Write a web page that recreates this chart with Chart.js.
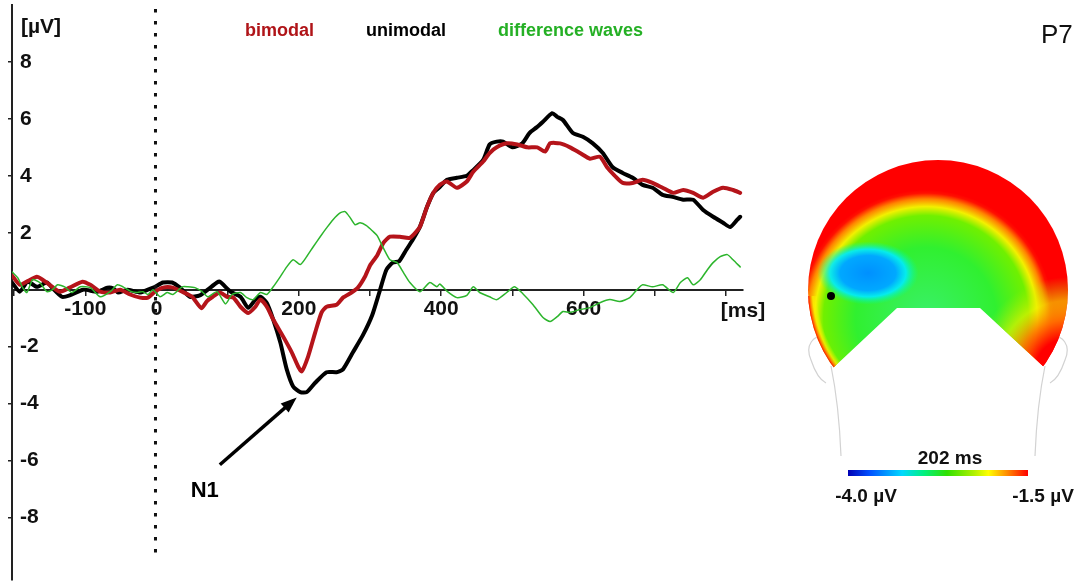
<!DOCTYPE html>
<html>
<head>
<meta charset="utf-8">
<script src="https://cdn.jsdelivr.net/npm/chart.js@4.4.1/dist/chart.umd.min.js"></script>
<style>
  body { margin: 0; background: #fff; }
  #wrap { width: 1079px; height: 581px; }
</style>
</head>
<body>
<div id="wrap"><canvas id="erpChart"></canvas></div>
<script>
// ERP at P7: bimodal vs unimodal, plus difference wave
var unimodalMs = [-203,-192,-181,-168,-154,-146,-133,-122,-103,-83,-69,-61,-54,-41,-23,-12,-2,9,22,33,47,61,72,85,89,104,118,129,139,146,155,164,174,183,192,202,211,223,239,253,262,276,290,303,313,323,332,341,351,360,370,380,389,398,408,422,436,445,459,468,478,487,500,514,524,534,543,556,563,571,585,599,613,627,641,655,669,683,697,711,725,740,754,768,782,796,806,816,820];
var unimodalUv = [0.25,-0.07,0.28,0.1,0.25,0.05,-0.25,-0.2,0,-0.07,0.07,0.05,-0.1,0,-0.1,0,0.1,0.25,0.25,0.07,-0.25,-0.2,0,0.25,0.28,-0.07,-0.25,-0.64,-0.35,-0.25,-0.47,-1.05,-1.86,-2.8,-3.4,-3.6,-3.6,-3.27,-2.9,-2.9,-2.8,-2.2,-1.6,-0.9,-0.1,0.7,0.95,1.0,1.4,1.75,2.2,2.9,3.4,3.6,3.86,3.93,4.0,4.2,4.56,5.1,5.2,5.2,5.0,5.14,5.5,5.7,5.9,6.2,6.07,5.96,5.5,5.37,5.14,4.8,4.3,4.1,3.93,3.68,3.58,3.33,3.26,3.16,3.16,2.8,2.56,2.35,2.2,2.46,2.56];

var bimodalMs = [-203,-192,-181,-168,-160,-150,-136,-122,-104,-93,-79,-65,-51,-37,-23,-12,-2,9,23,36,50,63,71,79,89,99,108,118,129,139,146,155,164,178,190,199,204,213,223,232,239,253,262,274,283,293,300,310,319,328,342,356,370,380,389,398,408,422,436,445,459,468,478,492,507,521,535,546,553,567,581,595,609,623,633,644,655,669,683,697,711,726,740,754,768,782,796,810,820];
var bimodalUv = [0.5,0.17,0.3,0.45,0.35,0.17,-0.07,0.07,0.28,0.17,-0.07,-0.1,0,-0.17,-0.28,-0.28,-0.07,0.07,0.07,-0.07,-0.25,-0.65,-0.4,-0.25,-0.1,-0.25,-0.28,-0.6,-0.82,-0.6,-0.35,-0.6,-1.05,-1.65,-2.2,-2.7,-2.87,-2.35,-1.5,-0.8,-0.6,-0.53,-0.28,-0.1,0.07,0.46,0.85,1.2,1.65,1.86,1.86,1.82,2.2,2.9,3.4,3.68,3.8,3.58,3.8,4.14,4.5,4.8,5.0,5.14,5.1,5.0,5.0,4.85,5.14,5.14,5.0,4.8,4.6,4.67,4.3,4.0,3.75,3.75,3.86,3.75,3.58,3.4,3.5,3.4,3.23,3.44,3.58,3.5,3.4];

var diffMs = [-203,-195,-188,-182,-174,-164,-154,-146,-139,-129,-119,-107,-93,-79,-65,-55,-47,-37,-27,-19,-12,-5,5,15,23,36,44,54,64,72,85,97,106,118,127,136,146,155,164,174,183,192,202,211,220,230,239,248,258,265,272,279,286,295,304,310,319,328,338,347,356,370,384,394,398,408,422,436,445,454,468,478,492,503,515,529,543,553,563,571,581,595,609,623,637,651,665,675,683,697,711,726,736,746,754,764,774,782,792,802,810,820];
var diffUv = [0.63,0.42,0.07,-0.1,0.35,0.25,-0.07,0,0.17,0.1,-0.1,0.1,0.07,-0.25,-0.07,0.17,0.1,-0.05,-0.1,-0.07,-0.17,0,-0.25,-0.1,-0.17,0.1,0.1,0.07,-0.07,-0.25,-0.07,-0.5,-0.17,-0.1,-0.28,-0.35,-0.1,-0.17,0.1,0.46,0.8,1.05,0.88,1.16,1.5,1.86,2.17,2.46,2.7,2.74,2.53,2.28,2.35,2.25,2.05,1.9,1.45,1.05,0.95,0.6,0.25,-0.07,0.25,0.1,0.2,-0.05,-0.28,-0.2,0.1,-0.1,-0.25,-0.35,-0.1,0.1,-0.15,-0.53,-0.98,-1.12,-0.95,-0.77,-0.8,-0.7,-0.63,-0.46,-0.35,-0.42,-0.28,0,0.17,0.1,0.17,-0.1,0.25,0.42,0.17,0.35,0.7,0.95,1.16,1.23,1.05,0.8];

var xTickLabels = [-100, 0, 200, 400, 600];
var yTickLabels = [-8, -6, -4, -2, 2, 4, 6, 8];
var legendNames = ['bimodal', 'unimodal', 'difference waves'];
var legendColors = ['#b01418', '#000000', '#25b025'];

// N1 annotation in data units (ms, µV)
var n1Tip = [197, -3.79];
var n1Tail = [89, -6.15];
var n1Text = [48, -7.27];

var mapTitle = 'P7';
var mapTime = '202 ms';
var mapRange = ['-4.0 µV', '-1.5 µV'];

var FONT = "'Liberation Sans', Arial, sans-serif";

function toPoints(ms, uv) {
    return ms.map(function (t, i) { return {x: t, y: uv[i]}; });
}

function drawTopomap(ctx) {
    var cx = 938, cy = 290, r = 130;
    ctx.save();
    // ears + neck outline
    ctx.strokeStyle = '#d2d2d2';
    ctx.lineWidth = 1.2;
    [1, -1].forEach(function (s) {
        var X = function (x) { return cx + s * (x - cx); };
        ctx.beginPath();
        ctx.moveTo(X(829), 337);
        ctx.bezierCurveTo(X(812), 333, X(805), 346, X(811), 360);
        ctx.bezierCurveTo(X(815), 372, X(820), 380, X(826), 383);
        ctx.stroke();
        ctx.beginPath();
        ctx.moveTo(X(831), 366);
        ctx.quadraticCurveTo(X(839), 405, X(841), 456);
        ctx.stroke();
    });

    // scalp shape: circle cut by the lower notch
    ctx.beginPath();
    ctx.arc(cx, cy, r, 0, Math.PI * 2);
    ctx.clip();
    ctx.beginPath();
    ctx.moveTo(790, 140);
    ctx.lineTo(1090, 140);
    ctx.lineTo(1090, 368);
    ctx.lineTo(1045, 368);
    ctx.lineTo(980, 308);
    ctx.lineTo(897, 308);
    ctx.lineTo(833, 368);
    ctx.lineTo(790, 368);
    ctx.closePath();
    ctx.clip();

    var g = ctx.createRadialGradient(926, 318, 0, 926, 318, 128);
    g.addColorStop(0, '#3af06a');
    g.addColorStop(0.55, '#30f030');
    g.addColorStop(0.8, '#70f000');
    g.addColorStop(0.87, '#f2f000');
    g.addColorStop(0.93, '#ff8400');
    g.addColorStop(0.975, '#ff1000');
    g.addColorStop(1, '#ff0000');
    ctx.fillStyle = g;
    ctx.fillRect(790, 140, 300, 240);

    // warm lower-right sector
    var w = ctx.createRadialGradient(1068, 372, 0, 1068, 372, 95);
    w.addColorStop(0, 'rgba(255,0,0,1)');
    w.addColorStop(0.35, 'rgba(255,0,0,1)');
    w.addColorStop(0.55, 'rgba(255,120,0,0.9)');
    w.addColorStop(0.75, 'rgba(240,240,0,0.6)');
    w.addColorStop(1, 'rgba(180,240,0,0)');
    ctx.fillStyle = w;
    ctx.fillRect(960, 260, 130, 120);

    // thin warm rim along the lower-left scalp edge
    var rim = ctx.createRadialGradient(cx, cy, 0, cx, cy, r);
    rim.addColorStop(0, 'rgba(255,255,0,0)');
    rim.addColorStop(0.93, 'rgba(255,255,0,0)');
    rim.addColorStop(0.965, 'rgba(250,235,0,0.8)');
    rim.addColorStop(0.99, 'rgba(255,90,0,1)');
    rim.addColorStop(1, 'rgba(255,0,0,1)');
    ctx.fillStyle = rim;
    ctx.fillRect(790, 296, 52, 86);

    // negative focus over the left side
    ctx.save();
    ctx.translate(868, 273);
    ctx.scale(1.15, 0.72);
    var b = ctx.createRadialGradient(0, 0, 0, 0, 0, 44);
    b.addColorStop(0, '#0090ff');
    b.addColorStop(0.55, '#00a8ff');
    b.addColorStop(0.75, 'rgba(0,235,255,0.9)');
    b.addColorStop(1, 'rgba(0,255,150,0)');
    ctx.fillStyle = b;
    ctx.beginPath();
    ctx.arc(0, 0, 44, 0, Math.PI * 2);
    ctx.fill();
    ctx.restore();

    ctx.restore();

    // electrode P7
    ctx.fillStyle = '#000';
    ctx.beginPath();
    ctx.arc(831, 296, 4, 0, Math.PI * 2);
    ctx.fill();

    // colour bar
    var cb = ctx.createLinearGradient(848, 0, 1028, 0);
    cb.addColorStop(0, '#0000b4');
    cb.addColorStop(0.12, '#0050ff');
    cb.addColorStop(0.3, '#00d8ff');
    cb.addColorStop(0.42, '#00f080');
    cb.addColorStop(0.55, '#30e000');
    cb.addColorStop(0.7, '#b0f000');
    cb.addColorStop(0.78, '#ffff00');
    cb.addColorStop(0.88, '#ff9000');
    cb.addColorStop(1, '#ff0000');
    ctx.fillStyle = cb;
    ctx.fillRect(848, 470, 180, 6);

    ctx.fillStyle = '#111';
    ctx.font = 'bold 19px ' + FONT;
    ctx.textAlign = 'center';
    ctx.textBaseline = 'alphabetic';
    ctx.fillText(mapTime, 950, 464);
    ctx.fillText(mapRange[0], 866, 502);
    ctx.fillText(mapRange[1], 1043, 502);

    ctx.font = '26px ' + FONT;
    ctx.textAlign = 'left';
    ctx.fillText(mapTitle, 1041, 43);
    ctx.restore();
}

var decorations = {
    id: 'decorations',
    afterDatasetsDraw: function (chart) {
        var ctx = chart.ctx;
        var xs = chart.scales.x, ys = chart.scales.y;
        ctx.save();
        // stimulus onset
        ctx.strokeStyle = '#111';
        ctx.lineWidth = 3;
        ctx.setLineDash([3.5, 8.5]);
        ctx.beginPath();
        ctx.moveTo(xs.getPixelForValue(0) - 1, 9);
        ctx.lineTo(xs.getPixelForValue(0) - 1, 557);
        ctx.stroke();
        ctx.setLineDash([]);

        // axis units
        ctx.fillStyle = '#111';
        ctx.font = 'bold 21px ' + FONT;
        ctx.textBaseline = 'middle';
        ctx.textAlign = 'left';
        ctx.fillText('[µV]', 21, 27);
        ctx.textAlign = 'center';
        ctx.fillText('[ms]', 743, 311);

        // legend row
        var lx = [245, 366, 498];
        ctx.font = 'bold 18px ' + FONT;
        ctx.textAlign = 'left';
        ctx.textBaseline = 'alphabetic';
        legendNames.forEach(function (name, i) {
            ctx.fillStyle = legendColors[i];
            ctx.fillText(name, lx[i], 36);
        });

        // N1 arrow
        var tx = xs.getPixelForValue(n1Tip[0]), ty = ys.getPixelForValue(n1Tip[1]);
        var sx = xs.getPixelForValue(n1Tail[0]), sy = ys.getPixelForValue(n1Tail[1]);
        var ang = Math.atan2(ty - sy, tx - sx);
        ctx.strokeStyle = '#000';
        ctx.fillStyle = '#000';
        ctx.lineWidth = 3.5;
        ctx.beginPath();
        ctx.moveTo(sx, sy);
        ctx.lineTo(tx - 10 * Math.cos(ang), ty - 10 * Math.sin(ang));
        ctx.stroke();
        ctx.beginPath();
        ctx.moveTo(tx, ty);
        ctx.lineTo(tx - 16 * Math.cos(ang) + 6 * Math.sin(ang), ty - 16 * Math.sin(ang) - 6 * Math.cos(ang));
        ctx.lineTo(tx - 16 * Math.cos(ang) - 6 * Math.sin(ang), ty - 16 * Math.sin(ang) + 6 * Math.cos(ang));
        ctx.closePath();
        ctx.fill();
        ctx.font = 'bold 22px ' + FONT;
        ctx.fillText('N1', xs.getPixelForValue(n1Text[0]), ys.getPixelForValue(n1Text[1]));
        ctx.restore();

        drawTopomap(ctx);
    }
};

var ctx = document.getElementById('erpChart');
new Chart(ctx, {
    type: 'line',
    data: {
        datasets: [{
            label: 'difference waves',
            data: toPoints(diffMs, diffUv),
            borderColor: '#2cb52c',
            borderWidth: 1.5
        }, {
            label: 'bimodal',
            data: toPoints(bimodalMs, bimodalUv),
            borderColor: '#b5141a',
            borderWidth: 4
        }, {
            label: 'unimodal',
            data: toPoints(unimodalMs, unimodalUv),
            borderColor: '#000000',
            borderWidth: 4
        }]
    },
    options: {
        responsive: true,
        maintainAspectRatio: false,
        animation: false,
        elements: {
            point: {radius: 0},
            line: {tension: 0.2, borderJoinStyle: 'round', borderCapStyle: 'round'}
        },
        layout: {padding: {left: 0, right: 336, top: 5, bottom: 1}},
        plugins: {
            legend: {display: false},
            tooltip: {enabled: false}
        },
        scales: {
            x: {
                type: 'linear',
                position: {y: 0},
                min: -203,
                max: 824,
                afterFit: function (scale) {
                    scale.paddingTop = 0; scale.paddingBottom = 0;
                    scale.paddingLeft = 0; scale.paddingRight = 0;
                },
                border: {display: true, color: '#222', width: 2},
                grid: {drawOnChartArea: false, drawTicks: true, tickLength: 5, color: '#222', lineWidth: 1.5},
                ticks: {
                    stepSize: 100,
                    includeBounds: false,
                    autoSkip: false,
                    maxRotation: 0,
                    padding: 2,
                    color: '#111',
                    font: {family: FONT, size: 21, weight: 'bold'},
                    callback: function (v) { return xTickLabels.indexOf(v) >= 0 ? String(v) : ''; }
                }
            },
            y: {
                type: 'linear',
                position: 'left',
                min: -10.2,
                max: 10,
                afterFit: function (scale) {
                    scale.width = 12;
                    scale.paddingTop = 0; scale.paddingBottom = 0;
                },
                border: {display: true, color: '#222', width: 2},
                grid: {drawOnChartArea: false, drawTicks: true, tickLength: 4, color: '#222', lineWidth: 1.5},
                ticks: {
                    stepSize: 2,
                    includeBounds: false,
                    mirror: true,
                    padding: 8,
                    color: '#111',
                    font: {family: FONT, size: 21, weight: 'bold'},
                    callback: function (v) { return yTickLabels.indexOf(v) >= 0 ? String(v) : null; }
                }
            }
        }
    },
    plugins: [decorations]
});
</script>
</body>
</html>
